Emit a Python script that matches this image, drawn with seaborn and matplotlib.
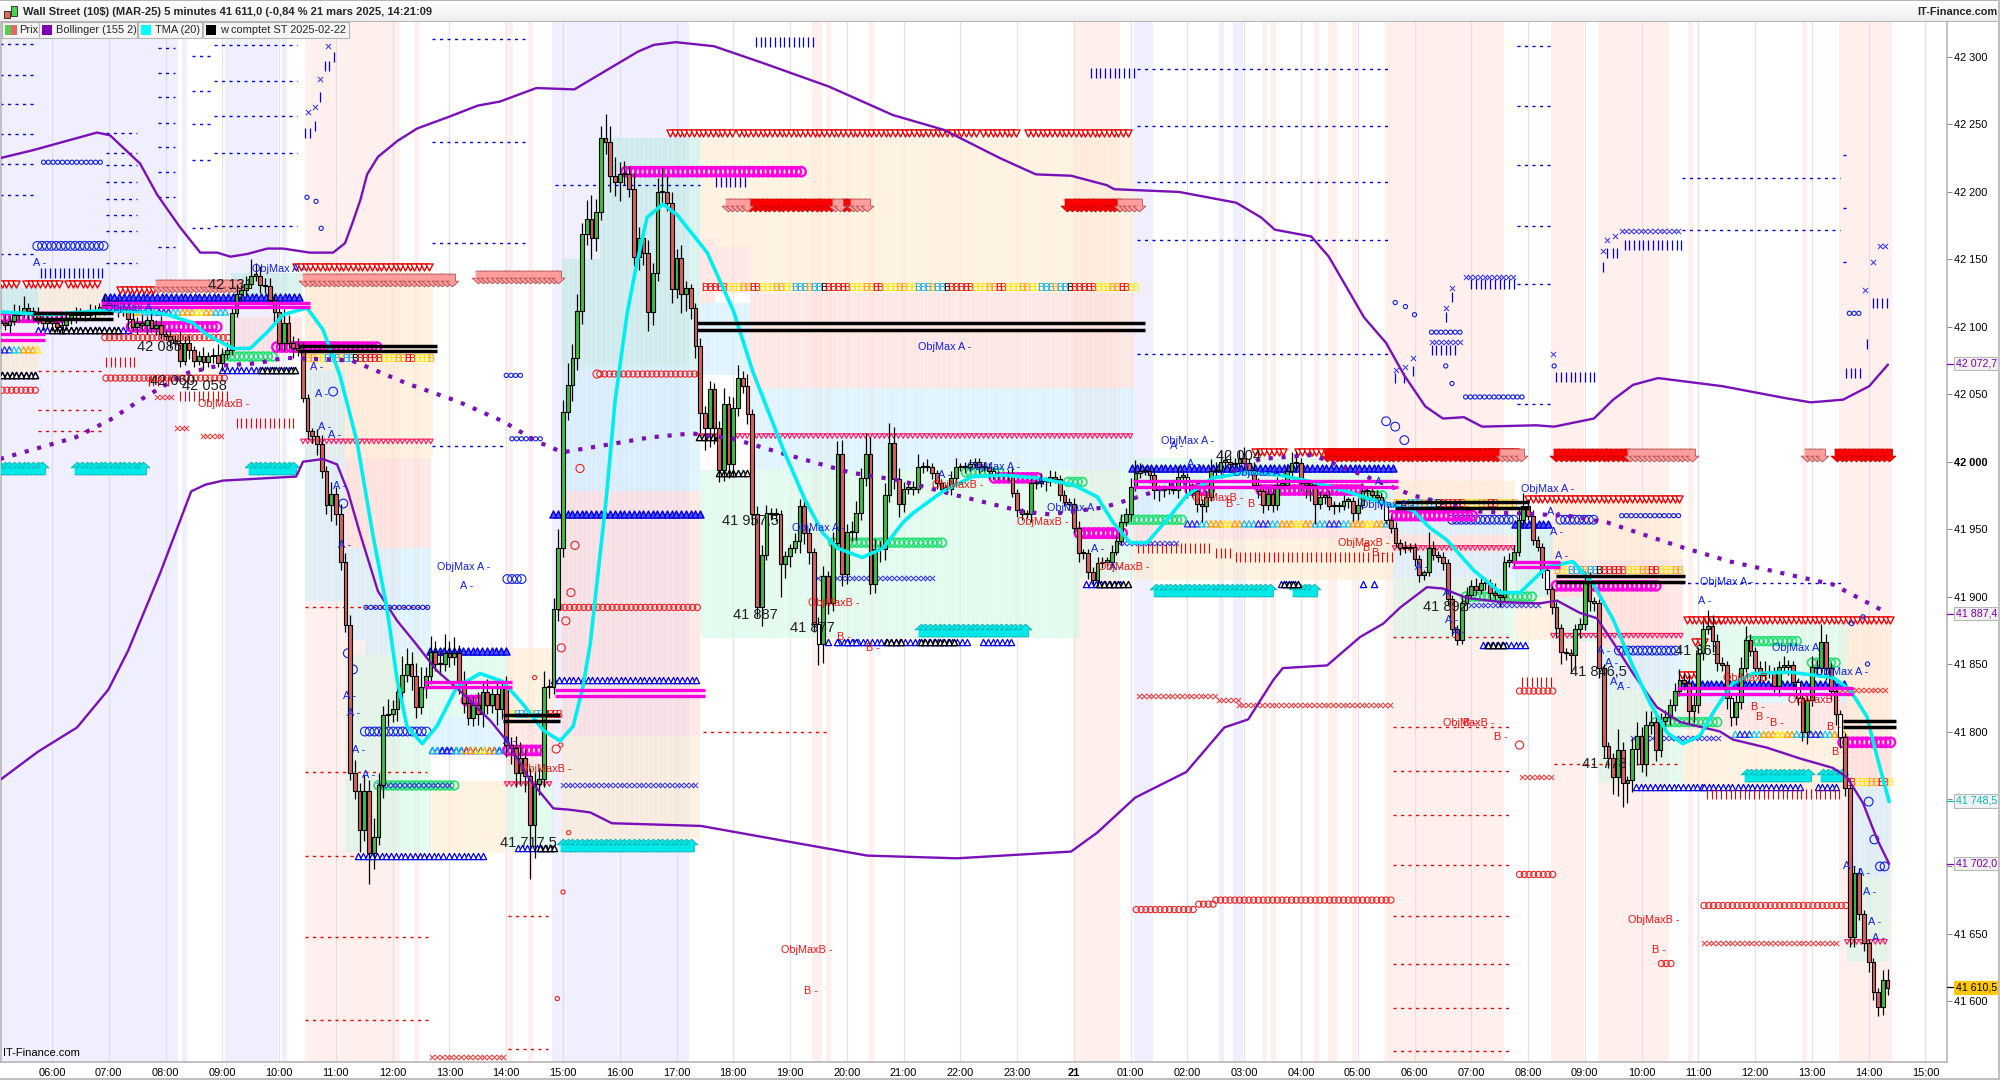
import numpy as np
import pandas as pd
import matplotlib
matplotlib.use('Agg')
import matplotlib.pyplot as plt
from matplotlib.patches import Rectangle
import seaborn as sns

# ---------- data (hours since midnight of the 20th, price) ----------
closes = [
    42103,42101,42104,42109,42111,42114,42112,42109,42106,42103,
    42104,42103,42100,42101,42106,42109,42110,42109,42109,42111,
    42112,42115,42116,42117,42115,42112,42114,42106,42100,42103,
    42101,42105,42099,42101,42095,42093,42090,42088,42075,42088,
    42083,42075,42078,42074,42078,42079,42073,42080,42083,42110,
    42124,42127,42132,42138,42138,42131,42130,42120,42111,42088,
    42103,42088,42084,42083,42047,42023,42019,42013,41993,41968,
    41976,41961,41926,41879,41769,41756,41727,41756,41710,41722,
    41760,41812,41813,41817,41829,41842,41850,41841,41818,41833,
    41841,41859,41850,41850,41858,41855,41858,41837,41821,41810,
    41820,41813,41829,41820,41828,41817,41833,41790,41788,41769,
    41780,41767,41731,41761,41765,41833,41833,41891,41936,42037,
    42057,42077,42112,42169,42180,42166,42185,42240,42237,42212,
    42207,42213,42213,42202,42152,42166,42155,42111,42140,42200,
    42200,42192,42128,42151,42124,42129,42114,42086,42036,42025,
    42054,42025,41994,42043,41998,42040,42062,42056,42035,41961,
    41892,41931,41962,41961,41961,41924,41930,41936,41941,41967,
    41947,41933,41880,41865,41915,41895,41940,42006,41917,41948,
    41948,41962,41988,42006,41909,41935,41935,41975,42014,41987,
    41969,41980,41980,41980,41996,41996,41996,41992,41984,41980,
    41980,41988,41996,41996,41996,41998,42000,41996,41996,41993,
    41990,41990,41990,41990,41977,41964,41961,41961,41984,41984,
    41986,41986,41989,41987,41975,41970,41969,41951,41932,41932,
    41918,41912,41925,41926,41926,41933,41941,41955,41961,41981,
    41992,41993,41993,41990,41979,41979,41980,41980,41979,41989,
    41989,41977,41978,41969,41967,41974,41993,41994,42000,42000,
    41998,41999,42003,41999,41994,41983,41978,41968,41976,41968,
    41983,41983,41993,41999,41999,41984,41983,41983,41969,41974,
    41974,41967,41967,41967,41971,41971,41962,41968,41978,41978,
    41975,41974,41969,41957,41951,41940,41936,41936,41937,41928,
    41916,41918,41936,41931,41929,41925,41898,41876,41868,41895,
    41901,41908,41905,41910,41910,41903,41901,41900,41926,41926,
    41933,41957,41967,41960,41942,41937,41920,41906,41892,41877,
    41859,41858,41857,41876,41880,41910,41897,41895,41847,41789,
    41780,41766,41786,41762,41764,41787,41797,41776,41805,41807,
    41786,41808,41811,41820,41830,41838,41836,41815,41820,41858,
    41876,41878,41867,41851,41849,41825,41811,41822,41847,41868,
    41860,41847,41842,41843,41843,41834,41848,41848,41849,41837,
    41825,41800,41823,41848,41847,41866,41847,41830,41813,41796,
    41758,41648,41695,41665,41643,41629,41607,41596,41616,41610,
]
up_wick = [
    3,6,4,8,5,9,4,3,6,2, 5,3,4,8,6,3,5,4,3,6, 4,3,8,5,3,6,4,3,9,4, 6,3,5,4,7,3,5,4,9,5,
    6,3,4,7,3,5,8,4,6,5, 8,4,6,12,9,7,5,6,4,8, 10,6,5,8,6,3,2,5,7,4, 9,5,8,6,7,10,6,12,8,14,
    9,7,11,6,10,14,12,9,10,15, 7,12,8,10,14,9,12,6,8,5, 6,9,7,10,4,8,5,8,6,9, 12,7,6,10,8,12,6,8,14,9,
    16,10,12,8,14,18,10,9,18,12, 14,9,10,6,12,8,6,9,7,10, 18,12,8,7,10,5,3,4,6,5, 6,4,5,12,6,8,10,5,9,4,
    6,7,6,4,5,3,4,3,6,5, 6,4,3,5,8,4,8,9,10,6, 8,9,7,15,12,8,6,9,15,12, 8,5,4,6,10,4,6,3,2,3,
    3,5,7,3,4,4,3,3,4,3, 3,3,2,4,5,3,2,3,5,4, 6,3,5,4,3,4,3,4,5,3, 3,4,4,3,3,5,4,6,5,7,
    9,6,4,3,5,4,3,6,3,8, 5,3,6,4,3,5,9,6,8,7, 5,4,6,8,4,6,5,3,5,7, 6,4,5,8,9,4,3,3,2,4,
    3,5,4,3,4,3,3,5,6,4, 3,4,3,2,3,4,3,5,3,3, 3,2,12,5,3,4,3,3,3,5, 6,4,6,5,4,3,7,5,4,6,
    5,8,10,5,4,3,3,3,2,4, 3,3,3,4,4,9,8,3,3,3, 3,4,16,6,3,8,10,6,10,8, 5,6,5,4,6,8,5,6,7,5,
    6,12,8,5,4,3,3,6,8,10, 4,3,5,9,6,5,4,8,4,3, 3,3,4,8,5,14,6,4,3,3, 3,3,5,4,3,3,3,3,7,8,
]
low_wick = [
    4,3,6,3,5,4,7,3,4,5, 3,6,4,5,3,4,6,3,5,4, 5,3,6,4,3,5,4,7,3,5, 4,6,3,5,4,3,6,4,5,3,
    7,5,3,6,4,5,3,6,4,4, 3,5,4,3,4,6,5,4,8,5, 6,4,7,5,3,6,5,8,5,7, 12,8,6,5,5,6,16,8,23,12,
    6,9,8,6,9,7,5,10,8,5, 8,6,5,8,5,7,6,9,7,5, 6,8,10,7,6,12,8,9,12,10, 8,12,40,25,8,6,8,5,9,7,
    6,12,9,10,8,16,10,6,9,12, 10,14,8,6,7,10,9,14,10,6, 9,6,10,7,14,12,8,9,15,16, 14,12,9,8,10,9,6,5,7,8,
    7,14,4,4,5,24,10,8,4,9, 8,9,6,16,14,8,6,5,9,8, 7,6,5,6,7,6,9,8,5,7, 10,6,4,5,3,4,3,5,4,3,
    3,5,4,3,4,3,3,4,3,5, 3,3,3,4,3,5,4,3,6,4, 3,8,4,3,4,3,5,4,6,4, 5,3,4,4,3,3,2,3,3,5,
    3,4,3,6,7,8,5,4,3,6, 5,4,3,6,12,4,3,4,3,5, 4,6,3,5,4,3,5,6,4,5, 4,3,3,4,5,6,10,12,15,4,
    5,3,6,4,3,5,6,5,3,4, 3,3,4,3,4,3,5,4,3,5, 5,4,3,4,3,5,4,5,4,3, 5,3,4,3,5,6,4,8,3,4,
    3,3,5,3,4,3,6,4,5,8, 9,5,14,12,7,5,8,6,7,9, 7,12,14,18,15,9,12,6,9,7, 8,5,7,6,5,4,5,9,8,6,
    5,4,8,6,4,8,7,6,5,3, 4,6,5,4,3,5,8,4,6,6, 5,7,9,4,6,5,9,7,8,8, 6,8,8,5,6,7,6,7,6,5,
]
hollow_bars = [132, 173, 200, 210, 251, 293, 327, 366, 380, 389]

boll_up_h = [5.08,5.67,6.79,7.02,7.55,7.85,8.25,8.61,8.91,9.14,9.44,9.79,10.07,10.54,10.95,11.16,11.30,11.43,11.55,11.74,12.09,12.43,13.01,13.50,13.89,14.53,15.20,15.76,16.32,16.60,16.99,17.66,18.56,19.69,20.81,21.71,22.70,23.33,23.95,24.58,24.71,25.85,26.86,27.30,27.54,28.18,28.49,28.78,29.11,29.50,29.82,30.19,30.50,30.87,31.19,32.14,32.46,33.16,33.50,33.85,34.29,35.42,36.55,36.98,37.55,38.01,38.34]
boll_up_p = [42225,42231,42244,42242,42221,42198,42174,42155,42155,42152,42154,42158,42158,42155,42155,42162,42178,42194,42213,42226,42238,42247,42256,42264,42267,42277,42276,42290,42304,42309,42311,42308,42295,42278,42257,42246,42225,42213,42212,42205,42202,42200,42192,42181,42172,42167,42152,42131,42107,42088,42064,42041,42032,42033,42026,42027,42026,42032,42046,42057,42062,42056,42047,42044,42046,42056,42072]
boll_low_h = [5.08,5.75,6.44,6.99,7.34,7.90,8.45,8.70,9.01,10.30,10.42,10.77,11.02,11.21,11.43,11.74,12.08,12.39,12.78,13.24,13.72,14.01,14.42,14.83,15.12,15.48,15.86,17.43,19.02,20.36,21.94,23.95,24.41,25.08,25.98,26.65,27.07,27.51,27.68,28.46,29.04,29.45,29.75,30.22,30.50,30.92,31.51,32.21,32.51,32.91,33.21,33.50,33.85,34.27,34.68,35.38,35.61,36.21,36.79,37.37,37.62,37.90,38.15,38.36]
boll_low_p = [41764,41785,41803,41831,41860,41917,41978,41983,41986,41989,42000,42002,41998,41978,41946,41904,41882,41866,41845,41828,41808,41793,41764,41743,41742,41740,41732,41730,41718,41708,41706,41711,41725,41751,41770,41803,41809,41838,41847,41849,41870,41880,41892,41907,41906,41899,41896,41895,41897,41888,41884,41866,41843,41818,41807,41800,41794,41788,41780,41773,41766,41747,41720,41702]
boll_mid_h = [5.08,6.41,7.02,7.60,8.08,8.40,8.91,9.61,10.10,11.28,12.25,13.13,13.94,14.54,14.99,15.70,16.53,17.27,18.00,18.88,20.06,20.94,21.94,23.10,23.58,24.51,25.22,25.75,26.45,27.28,28.21,29.09,29.97,31.15,32.69,33.39,34.68,35.56,37.37,38.32]
boll_mid_p = [42002,42018,42031,42047,42059,42066,42071,42073,42077,42075,42058,42045,42030,42015,42007,42012,42018,42021,42017,42006,41992,41986,41975,41963,41961,41966,41975,41983,41986,42002,42005,41990,41975,41963,41960,41955,41937,41926,41909,41888]
tma_h = [5.12,5.96,6.85,7.73,8.03,8.48,8.73,9.19,9.49,9.79,10.07,10.49,10.77,11.07,11.37,11.65,11.90,12.08,12.25,12.52,12.78,13.13,13.54,13.94,14.30,14.65,14.95,15.18,15.35,15.48,15.76,15.92,16.13,16.30,16.48,16.76,17.01,17.54,18.00,18.35,18.88,19.26,19.58,19.83,20.27,20.64,20.99,21.17,21.69,22.22,22.75,23.35,23.98,24.41,24.69,24.99,25.29,25.64,25.99,26.45,27.05,27.63,28.21,28.81,29.39,29.97,30.27,30.57,31.03,31.51,31.86,32.33,32.79,33.14,33.50,33.85,34.15,34.45,34.73,35.03,35.26,35.61,35.96,36.61,37.37,37.67,37.97,38.15,38.36]
tma_p = [42111,42109,42112,42111,42109,42103,42094,42084,42084,42096,42109,42114,42098,42064,42015,41946,41891,41838,41804,41791,41804,41833,41843,41837,41820,41801,41793,41804,41833,41865,41972,42046,42110,42147,42181,42191,42183,42155,42112,42066,42009,41972,41947,41936,41929,41936,41955,41962,41978,41989,41990,41988,41983,41974,41955,41940,41940,41957,41975,41988,41992,41990,41985,41978,41970,41964,41951,41942,41920,41903,41903,41922,41926,41910,41883,41848,41821,41799,41791,41797,41814,41836,41843,41844,41840,41831,41811,41781,41748]

lavender_spans = [(5.08,8.22),(8.29,8.38),(9.05,9.98),(10.05,10.14),(14.81,17.22),(25.06,25.39),(26.56,26.65),(26.80,26.98)]
pink_spans = [(10.46,12.13),(12.38,12.46),(14.03,14.12),(14.38,14.47),(19.39,19.56),(19.63,19.72),(20.39,20.48),(24.0,24.81),(27.31,27.40),(27.47,27.56),(28.23,28.32),(28.48,28.64),(28.90,28.99),(29.48,31.58),(32.41,32.99),(33.23,34.48),(34.82,34.91),(36.83,36.92),(37.48,38.41)]

ORANGE, PINK, BLUE, MINT, TEAL = '#ffe8c8', '#ffd5d0', '#c8ecff', '#cdf6e2', '#b8e8e0'
zones = [
    (5.08,5.75,42111,42129,TEAL),(5.08,5.75,42066,42090,ORANGE),(5.75,6.93,42105,42129,ORANGE),
    (9.15,10.4,42122,42140,TEAL),(9.15,10.4,42081,42107,PINK),
    (10.46,12.71,42003,42141,ORANGE),(11.16,12.68,41936,42003,PINK),(10.46,11.16,41897,42068,BLUE),
    (11.16,11.51,41868,41936,BLUE),(11.51,12.68,41857,41936,BLUE),(11.16,12.68,41711,41857,MINT),
    (12.66,14.01,41811,41860,MINT),(12.66,14.01,41788,41811,BLUE),(12.66,14.01,41710,41763,ORANGE),
    (14.01,14.83,41805,41862,ORANGE),(14.01,14.83,41775,41805,PINK),(14.01,14.83,41712,41775,MINT),
    (14.98,15.65,42070,42150,TEAL),(15.65,17.41,42070,42240,TEAL),(14.98,17.41,41978,42070,BLUE),
    (14.98,17.41,41797,41978,PINK),(14.98,17.41,41720,41797,ORANGE),
    (17.41,25.06,42166,42240,ORANGE),(17.68,18.30,42159,42166,ORANGE),(18.30,25.06,42125,42166,ORANGE),(17.41,17.68,42118,42166,PINK),
    (17.68,18.30,42125,42159,PINK),(18.30,25.06,42055,42125,PINK),(17.41,18.30,42064,42118,BLUE),
    (18.30,25.06,41994,42055,BLUE),(17.41,24.1,41869,41994,MINT),
    (24.1,25.04,41914,41994,MINT),
    (25.04,29.62,41984,42003,MINT),(25.04,29.62,41957,41984,BLUE),(25.04,29.62,41943,41957,PINK),(25.04,29.62,41912,41943,ORANGE),
    (29.62,31.77,41959,41986,ORANGE),(29.62,31.77,41946,41958,BLUE),(29.62,31.77,41933,41946,PINK),(29.62,31.77,41914,41933,BLUE),(29.62,31.77,41868,41914,MINT),
    (31.77,32.44,41900,41955,TEAL),(31.77,32.44,41868,41900,ORANGE),
    (32.44,34.73,41927,41972,ORANGE),(32.44,34.73,41900,41927,PINK),(33.23,34.73,41863,41900,PINK),(32.44,33.23,41866,41900,MINT),
    (33.23,34.73,41831,41863,BLUE),(33.23,34.73,41762,41831,MINT),
    (34.73,37.62,41836,41879,MINT),(34.73,37.62,41821,41836,BLUE),(34.73,37.62,41801,41821,PINK),(34.73,37.62,41757,41800,ORANGE),
    (37.62,38.37,41796,41879,ORANGE),(37.62,38.37,41759,41792,PINK),(37.62,38.37,41692,41759,BLUE),(37.62,38.37,41629,41692,MINT),
]

blue_dash_groups = [
    (5.08,5.74,[42310,42287,42265,42243,42221,42198,42154]),
    (6.95,7.50,[42244,42229,42220,42207,42195,42183,42171,42147]),
    (7.87,8.17,[42307,42288,42270,42251,42233,42215,42196,42159]),
    (8.47,8.82,[42301,42275,42250,42224,42173]),
    (8.85,10.32,[42309,42282,42256,42229,42175]),
    (12.69,14.33,[42313,42237,42162]),
    (14.86,17.41,[42205]),
    (25.11,29.59,[42291,42249,42207,42164,42080]),
    (31.81,32.42,[42308,42264,42220,42175,42132,42043]),
    (34.71,37.50,[42210,42172]),
    (12.69,13.98,[42012]),
    (34.68,37.55,[41910]),
    (37.55,37.60,[42227,42188,42148]),
]
red_dash_groups = [
    (5.75,6.88,[42067,42038,42023]),
    (10.46,12.64,[41708,41648,41586]),
    (10.46,12.60,[41892,41770]),
    (14.03,14.74,[41663,41565]),
    (29.62,31.73,[41870,41803,41771,41738,41701,41663,41628,41595,41563]),
    (32.46,34.65,[41776]),
    (17.47,19.70,[41800]),
]
black_pairs = [(17.36,25.25,42103,42098),(10.34,12.78,42086,42082),(13.94,14.95,41812,41808),(5.66,7.07,42110,42106),(29.66,32.02,41970,41966),(32.49,34.77,41915,41911),(37.55,38.48,41808,41803)]
magenta_pairs = [(6.86,10.54,42118,42115),(5.08,5.88,42095,42090),(12.56,14.1,41837,41833),(14.86,17.5,41831,41826),(25.04,29.71,41986,41981),(31.72,32.56,41926,41922),(34.62,37.73,41832,41828)]

rows = {
    'red_v': [(5.11,5.37,42132),(5.54,6.19,42132),(6.28,6.46,42132),(6.54,6.79,42132),(7.2,7.85,42127),(10.3,12.71,42144),(16.89,18.0,42244),(18.1,22.3,42244),(22.4,23.0,42244),(23.2,24.99,42244),(27.19,27.75,42007),(27.94,31.80,42007),(32.0,34.70,41972),(34.8,38.42,41883),(34.71,34.99,41842),(34.94,35.15,41866),(35.15,35.42,41883)],
    'red_arrow': [(23.88,24.81,42190),(18.3,19.79,42190),(19.95,20.1,42190),(28.46,31.54,42005),(32.5,33.8,42005),(37.44,38.42,42005)],
    'pale_arrow': [(13.5,14.96,42137),(7.87,9.31,42130),(10.46,13.06,42135),(17.9,18.25,42190),(19.8,19.95,42190),(20.1,20.4,42190),(24.81,25.18,42190),(31.54,31.91,42005),(33.8,34.95,42005),(36.92,37.2,42005)],
    'cyan_arrow': [(5.08,5.87,41995),(6.44,7.67,41995),(9.5,10.3,41995),(15.0,17.3,41716),(21.3,23.15,41875),(25.45,27.5,41905),(27.9,28.25,41905),(35.85,36.95,41768),(37.2,37.55,41768)],
    'blue_tri_dense': [(6.93,10.42,42122),(25.03,29.62,41995),(12.66,14.01,41860),(14.83,17.47,41961),(31.77,32.42,41954),(34.73,37.62,41835)],
    'blue_tri': [(11.39,12.92,41708),(13.0,13.6,41708),(19.86,22.15,41866),(22.4,22.9,41866),(19.66,19.66,41866),(19.83,19.83,41866),(20.0,20.2,41866),(14.2,14.83,41714),(24.22,24.85,41909),(27.65,27.95,41909),(29.1,29.1,41909),(29.28,29.28,41909),(31.2,31.95,41864),(33.9,35.1,41759),(35.1,35.65,41759),(35.7,36.86,41759),(37.1,37.5,41759),(5.12,5.75,42064),(5.75,7.35,42098),(9.0,10.3,42068),(14.85,17.4,41838),(12.7,13.9,41786)],
    'black_tri': [(17.4,17.75,42018),(17.75,18.3,41992),(14.6,14.9,41714),(24.45,24.95,41909),(27.7,27.95,41909),(31.3,31.6,41864),(20.7,21.0,41866),(21.3,21.9,41866),(5.12,5.75,42064),(6.0,7.2,42098),(9.7,10.3,42068)],
    'magenta_o': [(16.11,19.24,42215),(5.08,6.2,42107),(7.4,8.95,42100),(9.96,11.0,42085),(10.3,11.75,42085),(13.3,13.85,41823),(14.03,14.65,41786),(22.6,23.35,41988),(24.1,24.7,41947),(24.1,24.85,41947),(26.05,26.45,41979),(27.3,29.1,41979),(29.6,31.05,41960),(37.55,38.45,41792),(32.5,34.25,41908)],
    'green_o': [(19.76,21.69,41940),(22.1,22.7,41992),(23.9,24.2,41985),(11.75,13.1,41760),(9.05,9.94,42078),(24.9,25.95,41957),(29.1,29.5,41975),(30.9,32.1,41900),(34.25,35.4,41807),(35.9,36.8,41867),(37.0,37.45,41851)],
    'blue_O': [(5.74,6.93,42160),(11.51,12.66,41800),(30.66,31.75,41957),(32.57,33.23,41957),(33.6,34.65,41860),(14.02,14.35,41913)],
    'blue_small_o': [(5.85,6.93,42222),(11.53,12.66,41892),(33.65,34.65,41960),(31.81,31.9,42048),(30.9,31.77,42048),(30.3,30.8,42096),(14.1,14.6,42017),(14.0,14.3,42064),(37.66,37.88,42110)],
    'blue_x': [(11.75,13.0,41760),(19.5,21.55,41914),(24.8,25.85,41940),(15.0,17.35,41760),(31.0,32.2,41894),(33.85,35.35,41795),(30.3,30.8,42089),(30.9,31.77,42137),(33.65,34.7,42171),(38.2,38.36,42160)],
    'blue_i': [(5.8,6.9,42140),(24.3,25.05,42288),(17.7,18.2,42207),(18.4,19.4,42311),(30.3,30.75,42083),(31.0,31.75,42132),(33.7,34.7,42161),(38.07,38.33,42118),(37.6,37.88,42066),(32.5,33.2,42063)],
    'red_o': [(6.95,9.05,42062),(6.93,9.1,42092),(5.12,5.75,42053),(15.65,17.41,42065),(14.95,17.4,41892),(35.1,37.6,41671),(25.1,26.15,41668),(26.2,26.5,41672),(26.5,29.6,41675),(31.85,32.45,41830),(31.85,32.45,41694),(34.35,34.55,41628)],
    'red_x': [(25.15,26.55,41826),(26.55,26.9,41823),(26.9,29.62,41820),(12.7,14.03,41559),(7.85,8.17,42048),(8.2,8.4,42025),(8.65,9.05,42019),(35.1,37.5,41643),(37.45,38.35,41831),(31.9,32.45,41766)],
    'crimson_v': [(17.41,25.06,42019),(10.42,12.7,42015),(29.65,31.77,41936),(32.44,34.73,41871),(37.62,38.36,41644),(14.01,14.83,41761)],
    'red_i': [(25.13,26.45,41936),(26.5,26.8,41932),(26.85,29.6,41929),(6.95,7.5,42074),(7.7,8.1,42060),(8.25,9.1,42049),(9.25,10.3,42029),(35.15,37.5,41754),(31.9,32.44,41837)],
}
# single glyphs: (hour, price)
blue_o_pts = [(10.49,42196),(10.65,42193),(10.74,42173),(29.66,42118),(29.84,42115),(30.0,42109),(30.55,42071),(30.66,42058),(37.9,41885),(37.98,41850),(37.7,41880),(32.46,42071)]
blue_big_o_pts = [(11.21,41858),(11.3,41846),(10.95,42052),(11.13,41969),(38.0,41748),(38.1,41720),(38.2,41700),(38.28,41700),(29.5,42030),(29.66,42026),(29.82,42016)]
blue_x_pts = [(10.86,42308),(10.72,42284),(10.63,42263),(10.51,42259),(38.07,42148),(37.93,42127),(29.68,42068),(29.83,42070),(29.97,42077),(30.55,42114),(30.66,42129),(33.32,42156),(33.39,42164),(33.53,42167),(32.44,42080)]
blue_i_pts = [(10.46,42244),(10.55,42244),(10.63,42249),(10.72,42270),(10.81,42293),(10.88,42293),(10.97,42300),(29.66,42062),(29.82,42062),(29.97,42067),(30.55,42107),(30.66,42122),(33.32,42144),(33.39,42155),(33.49,42155),(33.57,42155),(37.97,42087)]
red_big_o_pts = [(15.30,41995),(15.21,41938),(15.14,41903),(15.05,41882),(14.97,41862),(14.88,41787),(31.85,41790),(15.6,42065)]
red_small_o_pts = [(14.5,41840),(14.96,41790),(15.1,41725),(15.0,41681),(14.9,41602)]

rainbow_tri_rows = [(26.0,29.5,41954),(12.7,13.95,41786),(35.65,37.62,41798),(7.3,9.05,42111),(5.08,5.75,42083)]
rainbow_b_rows = [(17.5,25.1,42129),(10.42,12.7,42076),(29.66,31.77,41969),(32.5,34.73,41919),(14.01,14.95,41812),(37.62,38.4,41762)]

blue_objmax = [(12.78,41922),(21.26,42085),(9.52,42143),(6.93,42114),(19.03,41951),(22.12,41996),(23.53,41966),(25.54,42015),(26.80,41992),(29.04,41968),(31.88,41980),(35.03,41911),(36.30,41862),(37.06,41844)]
blue_a = [(13.19,41908),(5.67,42147),(10.55,42070),(10.63,42050),(10.69,42026),(10.86,42020),(10.95,41982),(11.04,41938),(11.13,41826),(11.2,41814),(11.29,41786),(11.46,41768),(13.94,41793),(32.33,41963),(32.39,41948),(32.48,41930),(30.5,41903),(30.54,41883),(30.66,41874),(30.01,41922),(33.22,41860),(33.36,41851),(33.45,41837),(33.57,41833),(37.55,41700),(37.79,41695),(37.9,41681),(37.99,41659),(38.06,41647),(21.6,41990),(23.35,41985),(24.3,41935),(24.62,41922),(25.7,42012),(26.0,41998),(29.3,41985),(35.0,41897)]
red_objmaxb = [(8.57,42043),(18.84,41638),(14.24,41772),(19.31,41895),(21.50,41983),(23.0,41955),(24.43,41922),(26.08,41973),(28.65,41940),(30.50,41806),(33.76,41660),(35.44,41840),(36.58,41823)]
red_b = [(19.25,41608),(19.83,41870),(20.34,41862),(26.68,41969),(27.07,41969),(29.09,41936),(29.25,41932),(35.93,41818),(36.02,41811),(36.26,41806),(37.27,41803),(37.36,41785),(34.18,41638),(30.85,41806),(31.4,41796)]
price_marks = [(13.89,41717,'41 717,5'),(17.80,41956,'41 957,5'),(18.0,41886,'41 887'),(19.0,41877,'41 877'),(26.5,42004,'42 004'),(30.15,41892,'41 892'),(32.74,41844,'41 846,5'),(32.95,41776,'41 778'),(34.59,41860,'41 861'),(7.5,42085,'42 085'),(7.73,42060,'42 060'),(8.29,42056,'42 058'),(8.75,42131,'42 131')]

y_ticks = list(range(41600, 42301, 50))
x_ticks = list(range(6, 40))
boxed_labels = [(42072.7,'42 072,7','#7b00b0','#f2f2f2'),(41887.4,'41 887,4','#7b00b0','#f2f2f2'),(41748.5,'41 748,5','#00b8b8','#f2f2f2'),(41702.0,'41 702,0','#7b00b0','#f2f2f2'),(41610.5,'41 610,5','black','#ffc800')]
legend_items = [('Prix',2,39),('Bollinger (155 2)',39,137),('TMA (20)',138,202),('w comptet ST 2025-02-22',203,349)]
legend_swatch = [None,'#7b00b0','#00ffff','black']

# ---------- setup ----------
sns.set_theme(style='white')
plt.rcParams['font.family'] = ['Liberation Sans', 'DejaVu Sans']
fig = plt.figure(figsize=(20, 10.8), dpi=100, facecolor='white')
ax = fig.add_axes([1/2000, 1-1062/1080, 1946/2000, 1041/1080])
ax.set_xlim(5.10, 39.38)
ax.set_ylim(41555, 42326.7)
ax.set_facecolor('white')

bar_h = 5 + 5/60 + np.arange(len(closes)) / 12
c = np.array(closes, float)
o = np.r_[c[0], c[:-1]]
df = pd.DataFrame({'h': bar_h, 'o': o, 'c': c})
df['high'] = df[['o', 'c']].max(axis=1) + np.array(up_wick)
df['low'] = df[['o', 'c']].min(axis=1) - np.array(low_wick)

# ---------- backgrounds ----------
for a, b in lavender_spans:
    ax.axvspan(a, b, color='#efefff', lw=0, zorder=0)
for a, b in pink_spans:
    ax.axvspan(a, b, color='#fff0ee', lw=0, zorder=0.1)
for h in x_ticks:
    ax.axvline(h, color='#dcdcdc', lw=0.9, alpha=0.8, zorder=0.5)
for h0, h1, p0, p1, col in zones:
    ax.add_patch(Rectangle((h0, p0), h1-h0, p1-p0, fc=col, ec='none', alpha=0.55, zorder=1))
    t = df.h[(df.h >= h0) & (df.h <= h1)]
    ax.vlines(t, p0, p1, color='white', lw=0.5, alpha=0.35, zorder=1.2)

# ---------- dashed levels ----------
for groups, col in ((blue_dash_groups, '#0000e0'), (red_dash_groups, '#f00000')):
    for h0, h1, levels in groups:
        ax.hlines(levels, h0, h1, color=col, lw=1.0, linestyles=(0, (2.2, 3.2)), zorder=2)

# ---------- marker rows ----------
ARROW_DOWN = [(-.45, 1), (.45, 1), (.45, -.1), (1, -.1), (0, -1), (-1, -.1), (-.45, -.1)]
ARROW_UP = [(-.45, -1), (.45, -1), (.45, .1), (1, .1), (0, 1), (-1, .1), (-.45, .1)]
styles = {
    'red_v':        dict(marker='v', s=26, fc='white', ec='#f00000', lw=1.0, z=3),
    'crimson_v':    dict(marker='v', s=11, fc='none', ec='#ff1060', lw=0.8, z=3),
    'red_arrow':    dict(marker=ARROW_DOWN, s=85, fc='#ff0000', ec='#c00000', lw=0.6, z=3),
    'pale_arrow':   dict(marker=ARROW_DOWN, s=85, fc='#ff9c9c', ec='#b05050', lw=0.6, z=3),
    'cyan_arrow':   dict(marker=ARROW_UP, s=85, fc='#00e8e8', ec='#00a8a8', lw=0.5, z=3),
    'blue_tri_dense': dict(marker='^', s=26, fc='#5050ff', ec='#0000e0', lw=1.0, z=3),
    'blue_tri':     dict(marker='^', s=20, fc='white', ec='#0000f0', lw=0.9, z=3),
    'black_tri':    dict(marker='^', s=20, fc='white', ec='black', lw=1.0, z=3.1),
    'magenta_o':    dict(marker='o', s=46, fc='none', ec='#ff00e0', lw=1.7, z=3.6),
    'green_o':      dict(marker='o', s=40, fc='none', ec='#20e070', lw=1.2, z=3.2),
    'blue_O':       dict(marker='o', s=40, fc='none', ec='#1020e8', lw=0.8, z=3),
    'blue_small_o': dict(marker='o', s=9, fc='none', ec='#1020e8', lw=0.8, z=3),
    'blue_x':       dict(marker='x', s=14, fc='#3030f0', ec='#3030f0', lw=0.7, z=3.2),
    'blue_i':       dict(marker='|', s=50, fc='#0000e0', ec='#0000e0', lw=0.9, z=3),
    'red_o':        dict(marker='o', s=20, fc='none', ec='#f02020', lw=0.8, z=3),
    'red_x':        dict(marker='x', s=14, fc='#f03030', ec='#f03030', lw=0.7, z=3),
    'red_i':        dict(marker='|', s=60, fc='#f00000', ec='#f00000', lw=0.8, z=3),
}

def expand(rows_):
    hs, ps = [], []
    for h0, h1, p in rows_:
        t = np.arange(h0, h1 + 1e-6, 1/12)
        hs.extend(t)
        ps.extend([p] * len(t))
    return hs, ps

def draw_row(hs, ps, st):
    kw = dict(marker=st['marker'], s=st['s'], linewidth=st['lw'], zorder=st['z'], legend=False, ax=ax)
    if st['marker'] in ('x', '|'):
        sns.scatterplot(x=hs, y=ps, color=st['ec'], **kw)
    else:
        sns.scatterplot(x=hs, y=ps, facecolor=st['fc'], edgecolor=st['ec'], **kw)

for kind, rows_ in rows.items():
    hs, ps = expand(rows_)
    draw_row(hs, ps, styles[kind])

draw_row(*zip(*blue_o_pts), styles['blue_small_o'])
draw_row(*zip(*blue_big_o_pts), styles['blue_O'])
draw_row(*zip(*blue_x_pts), styles['blue_x'])
draw_row(*zip(*blue_i_pts), styles['blue_i'])
draw_row(*zip(*red_big_o_pts), dict(styles['red_o'], s=34))
draw_row(*zip(*red_small_o_pts), dict(styles['red_o'], s=9))

rainbow = ['#1830f0']*3 + ['#10d0f0']*2 + ['#ffa000']*3 + ['#ffe800']*2 + ['#ffa000']*2 + ['#10c0f0']*3
hs, ps = expand(rainbow_tri_rows)
ax.scatter(hs, ps, marker='^', s=20, facecolors='none', edgecolors=np.resize(rainbow, len(hs)), linewidths=0.9, zorder=3)
bcols = ['#f00000']*5 + ['#ffe800']*3 + ['#ffa000']*2 + ['#f00000']*2 + ['#ffe800']*3 + ['#ffa000']*2 + ['#ffe800']*2 + ['#10a8f0']*3 + ['#ffa000'] + ['#10a8f0']*2 + ['black']
hs, ps = expand(rainbow_b_rows)
for h, p, col in zip(hs, ps, np.resize(bcols, len(hs))):
    ax.text(h, p, 'B', color=col, fontsize=7.5, ha='center', va='center', zorder=3)

# ---------- candles ----------
ax.vlines(df.h, df.low, df.high, color='black', lw=0.9, zorder=4)
up = df.c >= df.o
body_col = np.where(up, '#3fbe3f', '#d9605a')
body_col[hollow_bars] = 'white'
heights = (df.c - df.o).abs().clip(lower=1.0)
ax.bar(df.h, heights, bottom=df[['o', 'c']].min(axis=1), width=0.066, color=body_col, edgecolor='black', linewidth=0.8, zorder=4.2)

# ---------- indicators ----------
sns.lineplot(x=boll_up_h, y=boll_up_p, color='#7a10b8', lw=1.7, ax=ax, zorder=5, estimator=None, sort=False)
sns.lineplot(x=boll_low_h, y=boll_low_p, color='#7a10b8', lw=1.7, ax=ax, zorder=5, estimator=None, sort=False)
sns.lineplot(x=boll_mid_h, y=boll_mid_p, color='#7a10b8', lw=3.0, ax=ax, zorder=5, estimator=None, sort=False, linestyle=(0, (1, 2.1)))
sns.lineplot(x=tma_h, y=tma_p, color='#00eef0', lw=2.6, ax=ax, zorder=5.2, estimator=None, sort=False)

for h0, h1, p0, p1 in magenta_pairs:
    ax.hlines([p0, p1], h0, h1, color='#ff00e0', lw=2.4, zorder=5.4)
for h0, h1, p0, p1 in black_pairs:
    ax.hlines([p0, p1], h0, h1, color='black', lw=2.5, zorder=5.5)

# ---------- texts ----------
for h, p in blue_objmax:
    ax.text(h, p, 'ObjMax A -', color='#1020e8', fontsize=7.8, va='center', zorder=6)
for h, p in blue_a:
    ax.text(h, p, 'A -', color='#1020e8', fontsize=7.8, va='center', zorder=6)
for h, p in red_objmaxb:
    ax.text(h, p, 'ObjMaxB -', color='#f01010', fontsize=7.8, va='center', zorder=6)
for h, p in red_b:
    ax.text(h, p, 'B -', color='#f01010', fontsize=7.8, va='center', zorder=6)
for h, p, s in price_marks:
    ax.text(h, p, s, color='#202020', fontsize=10.5, va='center', zorder=6)
ax.text(0.001, 0.0035, 'IT-Finance.com', transform=ax.transAxes, color='black', fontsize=8, va='bottom', zorder=7)

# ---------- axes ----------
ax.grid(False)
ax.yaxis.tick_right()
ax.set_yticks(y_ticks)
ax.set_yticklabels([f'{v//1000} {v%1000:03d}' for v in y_ticks], fontsize=7.9, color='black')
ax.set_xticks(x_ticks)
ax.set_xticklabels(['21' if h == 24 else f'{h%24:02d}:00' for h in x_ticks], fontsize=7.9, color='black')
for lab, h in zip(ax.get_xticklabels(), x_ticks):
    if h == 24:
        lab.set_fontweight('bold')
for lab, v in zip(ax.get_yticklabels(), y_ticks):
    if v == 42000:
        lab.set_fontweight('bold')
ax.tick_params(axis='y', length=3.6, width=0.7, color='#808080', pad=1.5, right=True, left=False)
ax.tick_params(axis='x', length=0, pad=4)
ax.spines['top'].set_visible(False)
for side in ('left', 'right', 'bottom'):
    ax.spines[side].set_color('#b0b0b0')
    ax.spines[side].set_linewidth(1.1)

trans = ax.get_yaxis_transform()
for v, s, col, bg in boxed_labels:
    ax.text(1.0045, v, s, transform=trans, color=col, fontsize=7.7, va='center', ha='left', zorder=8, clip_on=False,
            bbox=dict(boxstyle='square,pad=0.15', fc=bg, ec='#b8b8b8' if bg != '#ffc800' else bg, lw=0.8))
    ax.plot([1.0, 1.003], [v, v], transform=trans, color=col, lw=0.9, clip_on=False, zorder=8)

# ---------- header and legend (window furniture, in figure pixels) ----------
def fx(px):
    return px / 2000
def fy(py):
    return 1 - py / 1080
def box(x0, y0, x1, y1, **kw):
    fig.add_artist(Rectangle((fx(x0), fy(y1)), fx(x1)-fx(x0), fy(y0)-fy(y1), transform=fig.transFigure, **kw))

grad = fig.add_axes([0, fy(21), 1, 21/1080])
grad.imshow(np.linspace(1.0, 0.93, 21)[:, None], aspect='auto', cmap='gray', vmin=0, vmax=1)
grad.axis('off')
box(0, 21, 2000, 22, fc='#b4b4b4', ec='none', zorder=9)
box(0, 0, 2000, 1, fc='#b4b4b4', ec='none', zorder=9)
box(1998, 0, 2000, 1080, fc='#c0c0c0', ec='none', zorder=9)
box(0, 1078, 2000, 1080, fc='#c0c0c0', ec='none', zorder=9)
box(4, 11, 10, 18, fc='#e06860', ec='black', lw=0.5, zorder=10)
box(11, 6, 17, 16, fc='#50d050', ec='black', lw=0.5, zorder=10)
fig.text(fx(23), fy(12), 'Wall Street (10$) (MAR-25) 5 minutes 41 611,0 (-0,84 % 21 mars 2025, 14:21:09', fontsize=8.0,
         fontweight='bold', va='center', zorder=10)
fig.text(fx(1997), fy(12), 'IT-Finance.com', fontsize=7.9, fontweight='bold', va='center', ha='right', zorder=10)
for (name, x0, x1), sw in zip(legend_items, legend_swatch):
    box(x0, 22, x1, 38, fc='#f5f5f5', ec='#b4b4b4', lw=0.8, zorder=10)
    if sw is None:
        box(x0+3, 25, x0+9, 35, fc='#50d050', ec='none', zorder=11)
        box(x0+9, 25, x0+15, 35, fc='#e06860', ec='none', zorder=11)
    else:
        box(x0+3, 25, x0+13, 35, fc=sw, ec='none', zorder=11)
    fig.text(fx(x0+17), fy(30), name, fontsize=7.9, va='center', zorder=11)

fig.savefig('out.png', dpi=100)
